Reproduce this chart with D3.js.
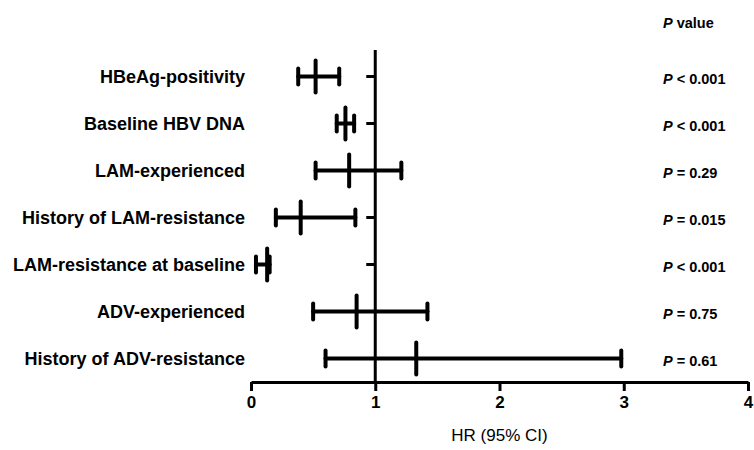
<!DOCTYPE html>
<html>
<head>
<meta charset="utf-8">
<script src="https://cdn.jsdelivr.net/npm/d3@7"></script>
<style>
  body { margin: 0; background: #fff; }
  svg { display: block; font-family: "Liberation Sans", Arial, Helvetica, sans-serif; }
</style>
</head>
<body>
<svg id="chart" width="754" height="450"></svg>
<script>
// data
const categories = [
  "HBeAg-positivity",
  "Baseline HBV DNA",
  "LAM-experienced",
  "History of LAM-resistance",
  "LAM-resistance at baseline",
  "ADV-experienced",
  "History of ADV-resistance"
];
const hr    = [0.52, 0.76, 0.79, 0.40, 0.13, 0.85, 1.33];
const lower = [0.38, 0.69, 0.52, 0.20, 0.04, 0.50, 0.60];
const upper = [0.71, 0.83, 1.21, 0.84, 0.15, 1.42, 2.98];
const pSign = ["<", "<", "=", "=", "<", "=", "="];
const pVals = ["0.001", "0.001", "0.29", "0.015", "0.001", "0.75", "0.61"];
const xTicks = [0, 1, 2, 3, 4];

const rows = categories.map((c, i) => ({ name: c, hr: hr[i], lo: lower[i], hi: upper[i], sign: pSign[i], p: pVals[i] }));

const svg = d3.select("#chart");

const x = d3.scaleLinear().domain([0, 4]).range([251, 748]);
const y = d3.scaleBand().domain(categories).range([53, 382]).padding(0);
const yc = d => y(d) + y.bandwidth() / 2;
const axisY = 382;

// x axis
const xAxis = svg.append("g")
  .attr("transform", `translate(0,${axisY})`)
  .call(d3.axisBottom(x).tickValues(xTicks).tickFormat(d3.format("d")).tickSize(9).tickSizeOuter(0).tickPadding(5));
xAxis.select(".domain").attr("stroke", "#000").attr("stroke-width", 3);
xAxis.selectAll(".tick line").attr("stroke", "#000").attr("stroke-width", 3);
xAxis.selectAll(".tick text")
  .attr("fill", "#000")
  .style("font-size", "17px")
  .style("font-weight", "bold");

svg.append("text")
  .attr("x", (x(0) + x(4)) / 2)
  .attr("y", 441)
  .attr("text-anchor", "middle")
  .style("font-size", "17px")
  .text("HR (95% CI)");

// reference line at HR = 1 with row ticks
const yAxis = svg.append("g")
  .attr("transform", `translate(${x(1)},0)`)
  .call(d3.axisLeft(y).tickSize(9).tickSizeOuter(0).tickFormat(""));
yAxis.select(".domain").attr("stroke", "#000").attr("stroke-width", 3)
  .attr("d", `M0,50V${axisY}`);
yAxis.selectAll(".tick line").attr("stroke", "#000").attr("stroke-width", 3);

// category labels
svg.append("g").selectAll("text")
  .data(rows)
  .join("text")
  .attr("x", 245)
  .attr("y", d => yc(d.name))
  .attr("dy", "0.35em")
  .attr("text-anchor", "end")
  .style("font-size", "18px")
  .style("font-weight", "bold")
  .text(d => d.name);

// error bars
const bars = svg.append("g")
  .attr("stroke", "#000")
  .attr("stroke-width", 4)
  .attr("stroke-linecap", "round")
  .selectAll("g")
  .data(rows)
  .join("g");

bars.append("line")
  .attr("x1", d => x(d.lo)).attr("x2", d => x(d.hi))
  .attr("y1", d => yc(d.name)).attr("y2", d => yc(d.name));
bars.append("line")
  .attr("x1", d => x(d.lo)).attr("x2", d => x(d.lo))
  .attr("y1", d => yc(d.name) - 8).attr("y2", d => yc(d.name) + 8);
bars.append("line")
  .attr("x1", d => x(d.hi)).attr("x2", d => x(d.hi))
  .attr("y1", d => yc(d.name) - 8).attr("y2", d => yc(d.name) + 8);
bars.append("line")
  .attr("x1", d => x(d.hr)).attr("x2", d => x(d.hr))
  .attr("y1", d => yc(d.name) - 16).attr("y2", d => yc(d.name) + 16);

// P values
const pHead = svg.append("text")
  .attr("x", 663).attr("y", 28)
  .style("font-size", "14.5px").style("font-weight", "bold");
pHead.append("tspan").style("font-style", "italic").text("P");
pHead.append("tspan").text(" value");

const pText = svg.append("g").selectAll("text")
  .data(rows)
  .join("text")
  .attr("x", 663)
  .attr("y", d => yc(d.name) + 2)
  .attr("dy", "0.35em")
  .style("font-size", "14.5px")
  .style("font-weight", "bold");
pText.append("tspan").style("font-style", "italic").text("P");
pText.append("tspan").text(d => ` ${d.sign} ${d.p}`);
</script>
</body>
</html>
